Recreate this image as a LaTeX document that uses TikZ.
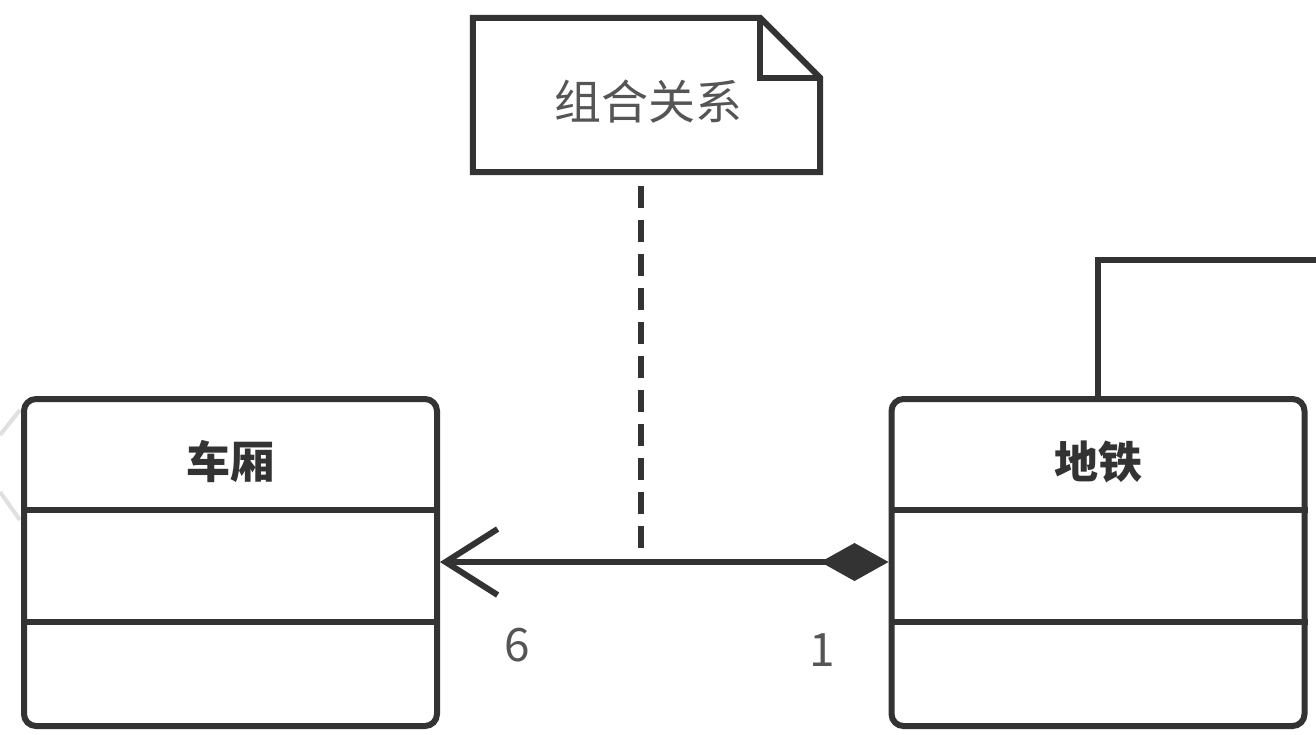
\documentclass[tikz,border=0pt]{standalone}
\usepackage{fontspec}
\newfontfamily\cjk{Noto Sans CJK SC}
\usetikzlibrary{arrows.meta}
\definecolor{ink}{HTML}{333333}
\definecolor{soft}{HTML}{555555}
\tikzset{
  classbox/.style={draw=ink, line width=6pt, rounded corners=12pt, minimum width=413pt, minimum height=327pt, inner sep=0pt, fill=white},
  divider/.style={draw=ink, line width=6pt},
  titletext/.style={text=ink, font=\cjk\bfseries\fontsize{44}{50}\selectfont, inner sep=0pt},
  notetext/.style={text=soft, font=\cjk\fontsize{47}{52}\selectfont, inner sep=0pt},
  multtext/.style={text=soft, font=\cjk\fontsize{46}{50}\selectfont, inner sep=0pt},
  wire/.style={draw=ink, line width=6pt},
  dashwire/.style={draw=ink, line width=6pt, dash pattern=on 22pt off 12pt},
  faint/.style={draw=black!12, line width=4pt},
}
\begin{document}
\begin{tikzpicture}[x=1pt,y=-1pt]
\useasboundingbox (0,0) rectangle (1316,734);
\fill[white] (0,0) rectangle (1316,734);
% faint remnants at left edge
\draw[faint] (20,410) -- (0,435);
\draw[faint] (0,492) -- (20,520);
% classes
\node[classbox] (car) at (230.5,562.5) {};
\node[classbox] (train) at (1098,562.5) {};
\draw[divider] (car.west |- 0,510) -- (car.east |- 0,510);
\draw[divider] (car.west |- 0,622) -- (car.east |- 0,622);
\draw[divider] (train.west |- 0,510) -- (train.east |- 0,510);
\draw[divider] (train.west |- 0,622) -- (train.east |- 0,622);
\node[titletext] (cartitle) at (230,462) {车厢};
\node[titletext] (traintitle) at (1098,462) {地铁};
% note
\node[minimum width=347pt, minimum height=154pt, inner sep=0pt] (note) at (646.5,95) {};
\draw[wire, line join=miter] (note.north west) -- ([xshift=-60pt]note.north east) -- ([yshift=-60pt]note.north east) -- (note.south east) -- (note.south west) -- cycle;
\draw[wire, line join=miter] ([xshift=-60pt]note.north east) -- ([xshift=-60pt,yshift=-60pt]note.north east) -- ([yshift=-60pt]note.north east);
\node[notetext] (notelabel) at (648,102) {组合关系};
% composition connector
\draw[wire, {Diamond[length=68pt,width=38pt,fill=ink]}-{Straight Barb[length=52pt,width=66pt,line width=6pt]}] (train.west |- 0,562) -- (car.east |- 0,562);
\coordinate (dend) at (641,552);
\coordinate (dstart) at (641,186);
\draw[dashwire] (dstart) -- (dend);
\node[multtext] (mcar) at (517,645) {6};
\node[multtext] (mtrain) at (822,650) {1};
% line leaving to the right
\coordinate (edge) at (1320,260);
\draw[wire, line join=miter] (train.north) -- (train.north |- edge) -- (edge);
\end{tikzpicture}
\end{document}
